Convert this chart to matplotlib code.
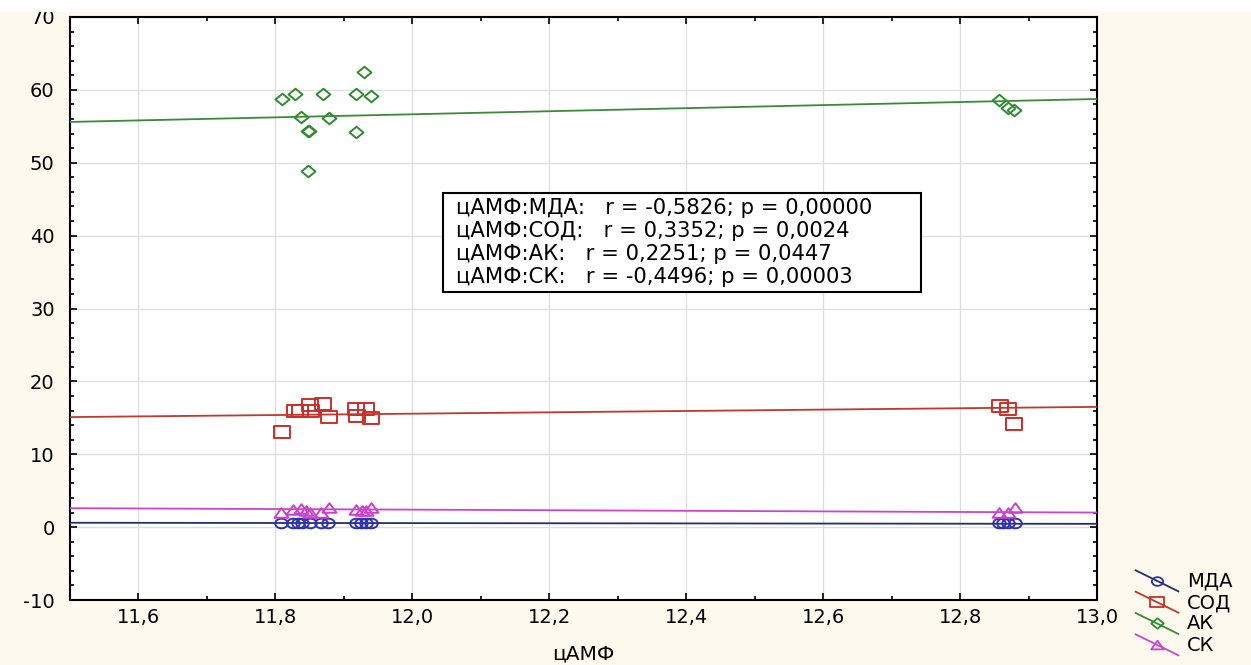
import matplotlib
matplotlib.use("Agg")
import numpy as np
import matplotlib.pyplot as plt
from matplotlib.lines import Line2D
from matplotlib.legend_handler import HandlerBase
from matplotlib.patches import Rectangle
from matplotlib.path import Path
from matplotlib.ticker import MultipleLocator, FuncFormatter

plt.rcParams['font.family'] = ['DejaVu Sans']

# scatter data
mda_x = [11.808, 11.826, 11.833, 11.839, 11.85, 11.867, 11.877, 11.918, 11.925, 11.933, 11.94,
         12.857, 12.863, 12.870, 12.880]
mda_y = [0.6, 0.55, 0.55, 0.5, 0.55, 0.6, 0.5, 0.6, 0.55, 0.5, 0.55, 0.5, 0.55, 0.55, 0.6]

sod_x = [11.81, 11.829, 11.836, 11.85, 11.852, 11.869, 11.879, 11.918, 11.919, 11.932, 11.94,
         12.858, 12.870, 12.879]
sod_y = [13.0, 15.9, 16.0, 16.8, 16.0, 16.9, 15.1, 16.2, 15.2, 16.2, 15.0, 16.6, 16.2, 14.1]

ak_x = [11.809, 11.829, 11.838, 11.848, 11.849, 11.848, 11.869, 11.879, 11.918, 11.918, 11.929,
        11.939, 12.857, 12.870, 12.879]
ak_y = [58.7, 59.4, 56.3, 54.3, 54.4, 48.8, 59.4, 56.1, 59.4, 54.2, 62.4, 59.2, 58.6, 57.5, 57.3]

sk_x = [11.808, 11.826, 11.838, 11.845, 11.85, 11.867, 11.879, 11.918, 11.927, 11.933, 11.939,
        12.857, 12.870, 12.880]
sk_y = [2.0, 2.4, 2.5, 2.2, 1.9, 2.0, 2.6, 2.3, 2.2, 2.2, 2.6, 2.0, 2.0, 2.6]

# regression lines, value at x = 11.5 and at x = 13.0
fit_x = [11.5, 13.0]
mda_fit = [0.6, 0.45]
sod_fit = [15.1, 16.5]
ak_fit = [55.6, 58.75]
sk_fit = [2.6, 2.0]

series_names = ['МДА', 'СОД', 'АК', 'СК']

stats_text = ("цАМФ:МДА:   r = -0,5826; p = 0,00000\n"
              "цАМФ:СОД:   r = 0,3352; p = 0,0024\n"
              "цАМФ:АК:   r = 0,2251; p = 0,0447\n"
              "цАМФ:СК:   r = -0,4496; p = 0,00003")

# the original picture is stretched sideways, so markers are a bit wider than tall
_t = np.linspace(0, 2 * np.pi, 41)
m_ellipse = Path(np.column_stack([1.3 * np.cos(_t), np.sin(_t)]), closed=True)
m_rect = Path([(-1.33, -1), (1.33, -1), (1.33, 1), (-1.33, 1), (-1.33, -1)], closed=True)
m_diamond = Path([(0, 1), (1.2, 0), (0, -1), (-1.2, 0), (0, 1)], closed=True)
m_tri = Path([(-1.3, -0.8), (1.3, -0.8), (0, 1.0), (-1.3, -0.8)], closed=True)

styles = [
    # marker, marker size, marker colour, line colour
    (m_ellipse, 9.0, '#2d32b0', '#22306e'),
    (m_rect, 11.0, '#cc2e2a', '#c0392b'),
    (m_diamond, 10.0, '#2e8b2e', '#3a8a3a'),
    (m_tri, 10.0, '#cc40cc', '#cc44cc'),
]


class DiagonalHandler(HandlerBase):
    """Legend key drawn as a slanted line with the marker in its middle."""

    def create_artists(self, legend, orig_handle, xdescent, ydescent, width, height,
                       fontsize, trans):
        x0, x1 = -xdescent, -xdescent + width
        y0, y1 = -ydescent + height * 1.1, -ydescent - height * 0.2
        line = Line2D([x0, x1], [y0, y1], color=orig_handle.get_color(), lw=1.3)
        mark = Line2D([(x0 + x1) / 2], [(y0 + y1) / 2], marker=orig_handle.get_marker(),
                      ms=orig_handle.get_markersize(), mfc='none',
                      mec=orig_handle.get_markeredgecolor(), mew=1.3, ls='none')
        line.set_transform(trans)
        mark.set_transform(trans)
        return [line, mark]


fig = plt.figure(figsize=(12.51, 6.65), dpi=100, facecolor='#fdf9ee')
ax = fig.add_axes([70 / 1251, 1 - 600 / 665, 1027 / 1251, 583 / 665])
ax.set_facecolor('white')

xs = [mda_x, sod_x, ak_x, sk_x]
ys = [mda_y, sod_y, ak_y, sk_y]
fits = [mda_fit, sod_fit, ak_fit, sk_fit]

handles = []
for x, y, f, (m, ms, mc, lc), name in zip(xs, ys, fits, styles, series_names):
    ax.plot(fit_x, f, color=lc, lw=1.3, zorder=3)
    ax.plot(x, y, ls='none', marker=m, ms=ms, mfc='none', mec=mc, mew=1.4, zorder=4)
    handles.append(Line2D([], [], color=lc, marker=m, ms=ms * 0.9, mec=mc, label=name))

ax.set_xlim(11.5, 13.0)
ax.set_ylim(-10, 70)
ax.xaxis.set_major_locator(MultipleLocator(0.2))
ax.xaxis.set_minor_locator(MultipleLocator(0.1))
ax.yaxis.set_major_locator(MultipleLocator(10))
ax.yaxis.set_minor_locator(MultipleLocator(2))
ax.xaxis.set_major_formatter(FuncFormatter(lambda v, p: f"{v:.1f}".replace('.', ',')))
ax.yaxis.set_major_formatter(FuncFormatter(lambda v, p: f"{v:.0f}"))
ax.tick_params(which='both', direction='in', top=True, right=True, width=1.2, colors='black')
ax.tick_params(which='major', length=5, labelsize=14)
ax.tick_params(which='minor', length=3)
ax.tick_params(axis='x', which='major', pad=6)
ax.tick_params(axis='y', which='major', pad=11)
ax.grid(True, which='major', color='#dddddd', lw=0.9)
ax.set_axisbelow(True)
for s in ax.spines.values():
    s.set_linewidth(1.5)

ax.set_xlabel('цАМФ', fontsize=14.5, labelpad=12)

# statistics box
box_l, box_b = (443 - 70) / 1027, 1 - (292 - 17) / 583
box_w, box_h = (921 - 443) / 1027, (292 - 193) / 583
ax.add_patch(Rectangle((box_l, box_b), box_w, box_h, transform=ax.transAxes,
                       facecolor='white', edgecolor='black', lw=1.5, zorder=6))
ax.text(box_l + 13 / 1027, box_b + box_h / 2, stats_text, transform=ax.transAxes,
        fontsize=15.2, ha='left', va='center', linespacing=1.2, zorder=7)

fig.legend(handles=handles, loc='lower left', bbox_to_anchor=(1122 / 1251, -0.005),
           frameon=False, fontsize=14, handlelength=2.2, handleheight=0.9,
           labelspacing=0.12, handletextpad=0.45, borderaxespad=0.3,
           handler_map={Line2D: DiagonalHandler()})

# white strip along the top edge of the picture
fig.add_artist(Rectangle((0, 1 - 12 / 665), 1, 12 / 665, transform=fig.transFigure,
                         facecolor='white', edgecolor='none', zorder=10))

fig.savefig('out.png', dpi=100, facecolor=fig.get_facecolor())
